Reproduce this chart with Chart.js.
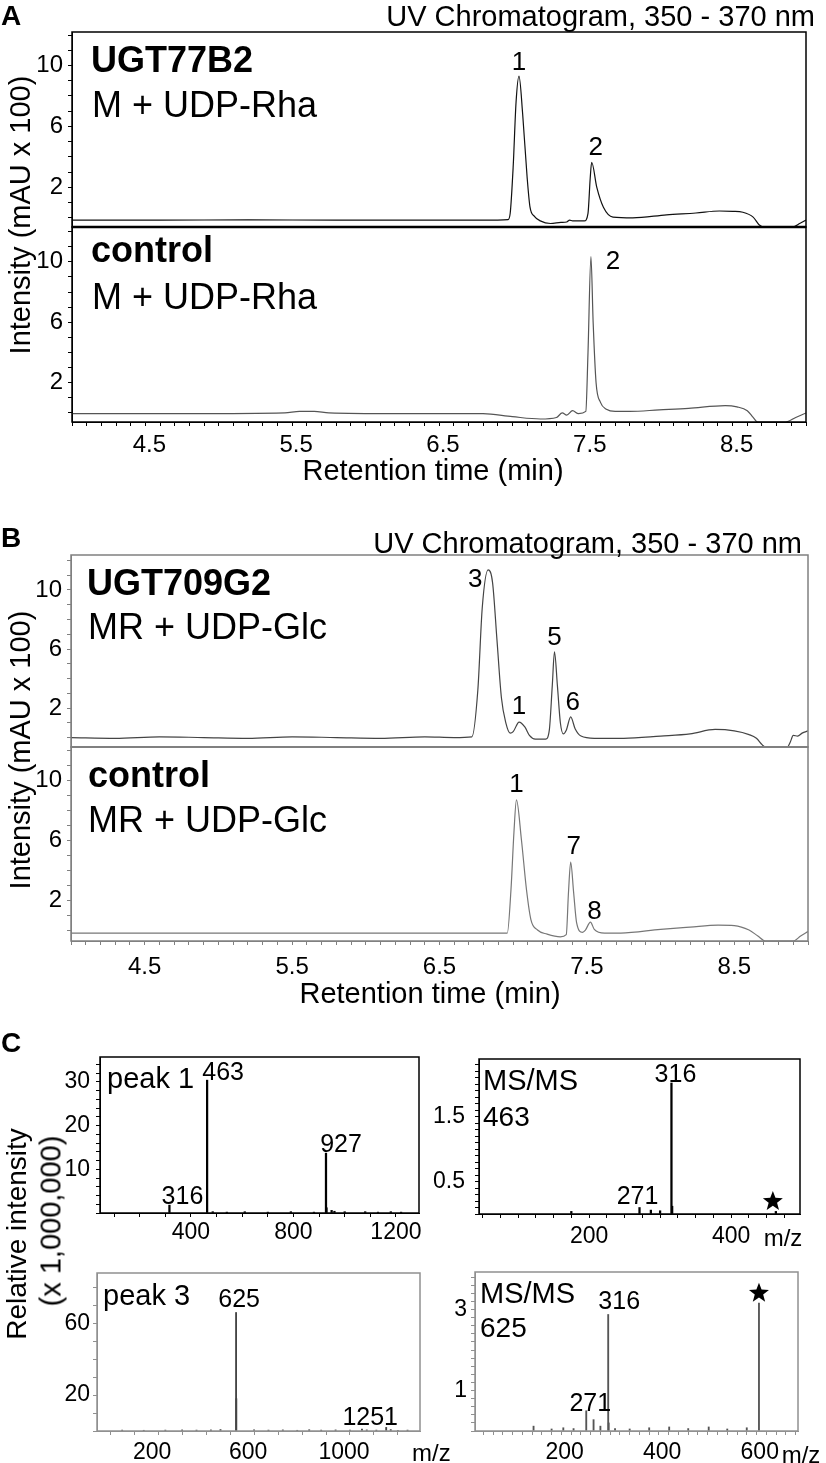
<!DOCTYPE html>
<html>
<head>
<meta charset="utf-8">
<script src="https://cdn.jsdelivr.net/npm/chart.js@4.4.1/dist/chart.umd.min.js"></script>
<style>
  html, body { margin: 0; padding: 0; background: #fff; }
  #fig { position: relative; width: 826px; height: 1463px; overflow: hidden;
         font-family: 'Liberation Sans', Arial, Helvetica, sans-serif; color: #000; }
  #fig canvas { position: absolute; }
  .t { position: absolute; white-space: nowrap; line-height: 1; }
</style>
</head>
<body>
<div id="fig"></div>
<script>
// ---- chromatograms: retention time (min) vs intensity (mAU x 100) ----
const rtTickLabels = [4.5, 5.5, 6.5, 7.5, 8.5];
const auTickLabels = [2, 6, 10];

const ugt77Time = [4.00, 4.60, 5.20, 5.80, 6.40, 6.90, 6.97, 6.985, 7.005, 7.025, 7.045, 7.07, 7.10, 7.12, 7.15, 7.19,
                   7.26, 7.33, 7.37, 7.39, 7.41, 7.49, 7.515, 7.53, 7.54, 7.575, 7.62, 7.685, 7.82, 8.05, 8.25, 8.41,
                   8.50, 8.57, 8.64, 8.68, 8.71, 8.91, 8.96, 9.00];
const ugt77Abs  = [-0.15, -0.15, -0.13, -0.15, -0.15, -0.15, -0.12, 0.3, 3.3, 7.6, 9.3, 6.8, 2.7, 0.7, 0.1, -0.2,
                   -0.37, -0.3, -0.27, -0.15, -0.2, -0.2, 0.3, 2.6, 3.65, 2.0, 0.7, 0.05, 0.0, 0.2, 0.32, 0.45,
                   0.43, 0.37, 0.05, -0.45, -0.6, -0.6, -0.35, -0.15];

const ctlRhaTime = [4.00, 4.80, 5.45, 5.55, 5.65, 5.75, 6.20, 6.80, 7.00, 7.19, 7.30, 7.34, 7.37, 7.41, 7.45, 7.50,
                    7.515, 7.535, 7.55, 7.57, 7.60, 7.64, 7.70, 7.80, 8.00, 8.20, 8.45, 8.53, 8.60, 8.64, 8.67, 8.86,
                    8.93, 9.00];
const ctlRhaAbs  = [-0.05, -0.05, 0.0, 0.1, 0.1, 0.0, -0.05, -0.05, -0.25, -0.4, -0.3, 0.0, -0.15, 0.15, -0.05, 0.1,
                    4.0, 10.35, 6.0, 2.0, 0.7, 0.25, 0.1, 0.1, 0.2, 0.3, 0.48, 0.4, 0.15, -0.3, -0.6, -0.6,
                    -0.3, 0.0];

const ugt709Time = [4.00, 4.30, 4.60, 4.90, 5.20, 5.50, 5.80, 6.10, 6.40, 6.60, 6.72, 6.76, 6.79, 6.83, 6.86, 6.89,
                    6.92, 6.95, 6.98, 7.00, 7.04, 7.08, 7.11, 7.15, 7.22, 7.245, 7.265, 7.28, 7.30, 7.32, 7.34, 7.36,
                    7.39, 7.42, 7.46, 7.55, 7.75, 8.00, 8.20, 8.37, 8.50, 8.60, 8.65, 8.69, 8.71, 8.86, 8.88, 8.90,
                    8.93, 8.96, 9.00];
const ugt709Abs  = [0.0, -0.05, 0.05, 0.0, -0.05, 0.05, 0.0, -0.05, 0.05, 0.0, 0.05, 3.2, 8.8, 11.36, 10.5, 6.6,
                    2.7, 1.0, 0.3, 0.4, 1.05, 0.7, 0.15, -0.1, -0.1, 0.5, 3.5, 5.8, 3.5, 1.0, 0.25, 0.5,
                    1.4, 0.6, 0.1, -0.05, -0.05, 0.1, 0.25, 0.55, 0.45, 0.2, -0.05, -0.5, -0.65, -0.65, -0.3, 0.15,
                    0.1, 0.3, 0.45];

const ctlGlcTime = [4.00, 5.00, 6.00, 6.80, 6.96, 6.985, 7.005, 7.022, 7.056, 7.09, 7.12, 7.165, 7.23, 7.32, 7.36, 7.375,
                    7.39, 7.41, 7.43, 7.47, 7.49, 7.524, 7.55, 7.62, 7.73, 8.00, 8.20, 8.39, 8.50, 8.60, 8.66, 8.71,
                    8.90, 8.95, 9.00];
const ctlGlcAbs  = [-0.2, -0.2, -0.2, -0.2, -0.2, 2.7, 6.5, 8.67, 6.0, 2.7, 0.7, 0.0, -0.27, -0.45, -0.3, 2.5,
                    4.53, 2.5, 0.5, -0.15, 0.0, 0.53, 0.05, -0.2, -0.2, 0.05, 0.2, 0.33, 0.3, 0.0, -0.4, -0.73,
                    -0.73, -0.4, -0.1];

// ---- mass spectra: m/z vs relative intensity (x 1,000,000) ----
const peak1Mz  = [316, 463, 485, 540, 610, 700, 790, 880, 927, 929, 949, 960, 1000, 1080, 1130, 1180, 1220];
const peak1Int = [1.8, 30.4, 0.3, 0.2, 0.3, 0.2, 0.3, 0.2, 13.7, 1.2, 0.6, 0.4, 0.3, 0.3, 0.2, 0.3, 0.2];
const peak1MzLabels = [400, 800, 1200];
const peak1IntLabels = [10, 20, 30];

const ms463Mz  = [175, 271, 287, 300, 316, 317, 463];
const ms463Int = [0.04, 0.1, 0.06, 0.05, 2.02, 0.12, 0.04];
const ms463MzLabels = [200, 400];
const ms463IntLabels = [0.5, 1.5];

const peak3Mz  = [150, 240, 330, 400, 460, 520, 560, 625, 626, 700, 760, 820, 880, 930, 980, 1040, 1100, 1150,
                  1170, 1210, 1251, 1270, 1300, 1340];
const peak3Int = [0.5, 0.4, 0.5, 0.6, 0.5, 0.6, 0.8, 66, 18, 0.6, 0.5, 0.6, 0.4, 0.7, 0.5, 0.6, 0.5, 1.0,
                  0.6, 0.5, 2.0, 0.8, 0.4, 0.5];
const peak3MzLabels = [200, 600, 1000];
const peak3IntLabels = [20, 60];

const ms625Mz  = [163, 200, 224, 245, 271, 286, 300, 316, 317, 330, 360, 400, 441, 480, 522, 560, 600, 625];
const ms625Int = [0.12, 0.05, 0.08, 0.06, 0.5, 0.28, 0.12, 2.88, 0.2, 0.06, 0.05, 0.08, 0.1, 0.06, 0.1, 0.05, 0.08, 3.16];
const ms625MzLabels = [200, 400, 600];
const ms625IntLabels = [1, 3];

Chart.defaults.font.family = "'Liberation Sans', Arial, Helvetica, sans-serif";
Chart.defaults.color = '#000';

const fig = document.getElementById('fig');

// box around the plot area (plus a heavier line under the upper trace)
const framePlugin = {
  id: 'frame',
  defaults: { color: null, width: 1.5, split: 0 },
  afterDraw(chart, args, opts) {
    if (!opts.color) return;
    const { ctx, chartArea: a } = chart;
    ctx.save();
    ctx.strokeStyle = opts.color;
    ctx.lineWidth = opts.width;
    ctx.strokeRect(a.left, a.top, a.right - a.left, a.bottom - a.top);
    if (opts.split) {
      ctx.lineWidth = opts.split;
      ctx.beginPath();
      ctx.moveTo(a.left, a.bottom);
      ctx.lineTo(a.right, a.bottom);
      ctx.stroke();
    }
    ctx.restore();
  }
};

function drawStar(ctx, cx, cy, r) {
  ctx.beginPath();
  for (let i = 0; i < 10; i++) {
    const ang = -Math.PI / 2 + i * Math.PI / 5;
    const rr = i % 2 ? r * 0.42 : r;
    ctx.lineTo(cx + rr * Math.cos(ang), cy + rr * Math.sin(ang));
  }
  ctx.closePath();
  ctx.fill();
}

// peak labels and stars, placed on the data scales
const notesPlugin = {
  id: 'notes',
  defaults: { items: [] },
  afterDatasetsDraw(chart, args, opts) {
    const { ctx, scales } = chart;
    ctx.save();
    opts.items.forEach(n => {
      const px = scales.x.getPixelForValue(n.x) + (n.dx || 0);
      const py = scales.y.getPixelForValue(n.y) + (n.dy || 0);
      ctx.fillStyle = '#000';
      if (n.star) {
        drawStar(ctx, px, py, n.star);
        return;
      }
      ctx.font = n.size + "px 'Liberation Sans', Arial, sans-serif";
      ctx.textAlign = 'center';
      ctx.textBaseline = 'middle';
      ctx.fillText(n.text, px, py);
    });
    ctx.restore();
  }
};

Chart.register(framePlugin, notesPlugin);

function makeChart(box, pad, config) {
  const c = document.createElement('canvas');
  c.width = box.w + pad.l + pad.r;
  c.height = box.h + pad.t + pad.b;
  c.style.left = (box.x - pad.l) + 'px';
  c.style.top = (box.y - pad.t) + 'px';
  c.style.width = c.width + 'px';
  c.style.height = c.height + 'px';
  fig.appendChild(c);
  return new Chart(c.getContext('2d'), config);
}

function axisX(o) {
  return {
    type: 'linear', position: 'bottom', min: o.min, max: o.max, offset: false, display: o.show,
    afterFit: s => { if (o.show) s.height = o.h; s.paddingLeft = 0; s.paddingRight = 0; },
    grid: { drawOnChartArea: false, drawTicks: true, tickLength: 4, color: o.tick, offset: false },
    border: { display: true, color: o.tick, width: 1 },
    ticks: {
      stepSize: o.step, autoSkip: false, maxRotation: 0, minRotation: 0, includeBounds: false,
      padding: o.pad, labelOffset: o.labelOffset || 0, color: '#000', font: { size: o.font },
      callback: v => o.labels.includes(v) ? String(v) : ''
    }
  };
}

function axisY(o) {
  return {
    type: 'linear', position: 'left', min: o.min, max: o.max,
    afterFit: s => { s.width = o.w; s.paddingTop = 0; s.paddingBottom = 0; },
    grid: { drawOnChartArea: false, drawTicks: true, tickLength: 4, color: o.tick },
    border: { display: true, color: o.tick, width: 1 },
    ticks: {
      stepSize: o.step, autoSkip: false, includeBounds: false, padding: o.pad, color: '#000',
      font: { size: o.font },
      callback: v => o.labels.includes(v) ? String(v) : ''
    }
  };
}

function chromChart(o) {
  const pad = { l: 62, r: 14, t: 18, b: o.showX ? 40 : 3 };
  return makeChart(o.box, pad, {
    type: 'line',
    data: {
      datasets: [{
        data: o.time.map((t, i) => ({ x: t, y: o.abs[i] })),
        borderColor: o.color, borderWidth: 1.2, pointRadius: 0,
        cubicInterpolationMode: 'monotone', fill: false
      }]
    },
    options: {
      responsive: false, animation: false, devicePixelRatio: 1,
      layout: { padding: { top: pad.t, right: pad.r, left: 0, bottom: o.showX ? 0 : pad.b } },
      plugins: {
        legend: { display: false }, tooltip: { enabled: false },
        frame: { color: o.frame, width: 1.5, split: o.split || 0 },
        notes: { items: o.notes }
      },
      scales: {
        x: axisX({ min: 4, max: 9, step: 0.1, labels: rtTickLabels, show: o.showX, h: pad.b,
                   tick: o.frame, pad: o.xPad, labelOffset: o.xOff, font: 24 }),
        y: axisY({ min: o.yMin, max: o.yMax, step: 1, labels: auTickLabels, w: pad.l,
                   tick: o.frame, pad: 5, font: 24 })
      }
    }
  });
}

function msChart(o) {
  const pad = { l: 60, r: 14, t: 18, b: 40 };
  return makeChart(o.box, pad, {
    type: 'bar',
    data: {
      datasets: [{
        data: o.mz.map((m, i) => ({ x: m, y: o.inten[i] })),
        backgroundColor: o.color, borderWidth: 0, barThickness: o.bar, grouped: false
      }]
    },
    options: {
      responsive: false, animation: false, devicePixelRatio: 1,
      layout: { padding: { top: pad.t, right: pad.r, left: 0, bottom: 0 } },
      plugins: {
        legend: { display: false }, tooltip: { enabled: false },
        frame: { color: o.frame, width: 1.5 },
        notes: { items: o.notes }
      },
      scales: {
        x: axisX({ min: o.xMin, max: o.xMax, step: o.xStep, labels: o.xLabels, show: true, h: pad.b,
                   tick: o.frame, pad: o.xPad, labelOffset: o.xOff, font: 23 }),
        y: axisY({ min: 0, max: o.yMax, step: o.yStep, labels: o.yLabels, w: pad.l,
                   tick: o.frame, pad: o.yPad, font: 23 })
      }
    }
  });
}

// ---- panel A ----
chromChart({
  box: { x: 72, y: 32, w: 734, h: 195 }, time: ugt77Time, abs: ugt77Abs, color: '#111',
  frame: '#000', split: 2.5, showX: false, yMin: -0.6, yMax: 12.2,
  notes: [{ text: '1', x: 7.045, y: 9.3, dy: -13, size: 26 }, { text: '2', x: 7.54, y: 3.65, dx: 4, dy: -14, size: 26 }]
});
chromChart({
  box: { x: 72, y: 227, w: 734, h: 195 }, time: ctlRhaTime, abs: ctlRhaAbs, color: '#555',
  frame: '#000', showX: true, xPad: 5, xOff: 4, yMin: -0.6, yMax: 12.3,
  notes: [{ text: '2', x: 7.535, y: 10.35, dx: 22, dy: 5, size: 26 }]
});

// ---- panel B ----
chromChart({
  box: { x: 71, y: 555, w: 737, h: 192 }, time: ugt709Time, abs: ugt709Abs, color: '#444',
  frame: '#808080', split: 2, showX: false, yMin: -0.64, yMax: 12.37,
  notes: [{ text: '3', x: 6.83, y: 11.36, dx: -13, dy: 10, size: 26 },
          { text: '1', x: 7.04, y: 1.05, dy: -15, size: 26 },
          { text: '5', x: 7.28, y: 5.8, dy: -14, size: 26 },
          { text: '6', x: 7.39, y: 1.4, dx: 2, dy: -14, size: 26 }]
});
chromChart({
  box: { x: 71, y: 747, w: 737, h: 194 }, time: ctlGlcTime, abs: ctlGlcAbs, color: '#777',
  frame: '#808080', showX: true, xPad: 8, xOff: 0, yMin: -0.73, yMax: 12.2,
  notes: [{ text: '1', x: 7.022, y: 8.67, dy: -15, size: 26 },
          { text: '7', x: 7.39, y: 4.53, dx: 3, dy: -15, size: 26 },
          { text: '8', x: 7.524, y: 0.53, dx: 4, dy: -10, size: 26 }]
});

// ---- panel C ----
msChart({
  box: { x: 100, y: 1057, w: 319, h: 156 }, mz: peak1Mz, inten: peak1Int, color: '#000', bar: 1.6, frame: '#000',
  xMin: 45, xMax: 1290, xStep: 100, xLabels: peak1MzLabels, xPad: 2,
  yMax: 35.7, yStep: 2, yLabels: peak1IntLabels, yPad: 6,
  notes: [{ text: '463', x: 463, y: 30.4, dx: 16, dy: -7, size: 25 },
          { text: '927', x: 927, y: 13.7, dx: 15, dy: -8, size: 25 },
          { text: '316', x: 316, y: 1.8, dx: 13, dy: -8, size: 25 }]
});
msChart({
  box: { x: 479, y: 1059, w: 321, h: 155 }, mz: ms463Mz, inten: ms463Int, color: '#000', bar: 1.6, frame: '#000',
  xMin: 45, xMax: 497, xStep: 25, xLabels: ms463MzLabels, xPad: 5,
  yMax: 2.39, yStep: 0.1, yLabels: ms463IntLabels, yPad: 10,
  notes: [{ text: '316', x: 316, y: 2.02, dx: 4, dy: -8, size: 25 },
          { text: '271', x: 271, y: 0.1, dx: -2, dy: -10, size: 25 },
          { star: 10.5, x: 463, y: 0.04, dx: -3, dy: -10 }]
});
msChart({
  box: { x: 97, y: 1273, w: 323, h: 158 }, mz: peak3Mz, inten: peak3Int, color: '#444', bar: 1.2, frame: '#909090',
  xMin: 45, xMax: 1392, xStep: 100, xLabels: peak3MzLabels, xPad: 4, xOff: 18,
  yMax: 88, yStep: 10, yLabels: peak3IntLabels, yPad: 3,
  notes: [{ text: '625', x: 625, y: 66, dx: 3, dy: -12, size: 25 },
          { text: '1251', x: 1251, y: 2.0, dx: -16, dy: -9, size: 25 }]
});
msChart({
  box: { x: 475, y: 1272, w: 323, h: 159 }, mz: ms625Mz, inten: ms625Int, color: '#555', bar: 1.2, frame: '#909090',
  xMin: 43, xMax: 705, xStep: 20, xLabels: ms625MzLabels, xPad: 4, xOff: 13,
  yMax: 3.93, yStep: 0.2, yLabels: ms625IntLabels, yPad: 4,
  notes: [{ text: '316', x: 316, y: 2.88, dx: 11, dy: -12, size: 25 },
          { text: '271', x: 271, y: 0.5, dx: 4, dy: -7, size: 25 },
          { star: 10.5, x: 625, y: 3.16, dy: -10 }]
});

// ---- static text ----
// [text, x, y(center), size, bold, align, rotated]
const texts = [
  ['A', 1, 16, 28, true, 'left'],
  ['UV Chromatogram, 350 - 370 nm', 815, 16, 29, false, 'right'],
  ['UGT77B2', 91, 60, 36, true, 'left'],
  ['M + UDP-Rha', 92, 105, 36, false, 'left'],
  ['control', 91, 250, 36, true, 'left'],
  ['M + UDP-Rha', 92, 297, 36, false, 'left'],
  ['Intensity (mAU x 100)', 20, 215, 29, false, 'center', true],
  ['Retention time (min)', 433, 470, 29, false, 'center'],
  ['B', 1, 538, 28, true, 'left'],
  ['UV Chromatogram, 350 - 370 nm', 802, 543, 29, false, 'right'],
  ['UGT709G2', 87, 583, 36, true, 'left'],
  ['MR + UDP-Glc', 88, 627, 36, false, 'left'],
  ['control', 88, 775, 36, true, 'left'],
  ['MR + UDP-Glc', 88, 820, 36, false, 'left'],
  ['Intensity (mAU x 100)', 20, 750, 29, false, 'center', true],
  ['Retention time (min)', 430, 993, 29, false, 'center'],
  ['C', 1, 1043, 28, true, 'left'],
  ['Relative intensity', 17, 1234, 28, false, 'center', true],
  ['(x 1,000,000)', 51, 1221, 29, false, 'center', true],
  ['peak 1', 107, 1078, 29, false, 'left'],
  ['MS/MS', 483, 1080, 29, false, 'left'],
  ['463', 483, 1117, 28, false, 'left'],
  ['m/z', 783, 1238, 24, false, 'center'],
  ['peak 3', 103, 1295, 29, false, 'left'],
  ['m/z', 412, 1453, 24, false, 'left'],
  ['MS/MS', 480, 1293, 29, false, 'left'],
  ['625', 480, 1328, 28, false, 'left'],
  ['m/z', 801, 1455, 24, false, 'center']
];

texts.forEach(([txt, x, y, size, bold, align, rot]) => {
  const d = document.createElement('div');
  d.className = 't';
  d.textContent = txt;
  d.style.fontSize = size + 'px';
  if (bold) d.style.fontWeight = 'bold';
  d.style.left = x + 'px';
  d.style.top = y + 'px';
  const ax = align === 'center' ? '-50%' : align === 'right' ? '-100%' : '0';
  d.style.transform = 'translate(' + ax + ', -50%)' + (rot ? ' rotate(-90deg)' : '');
  fig.appendChild(d);
});
</script>
</body>
</html>
